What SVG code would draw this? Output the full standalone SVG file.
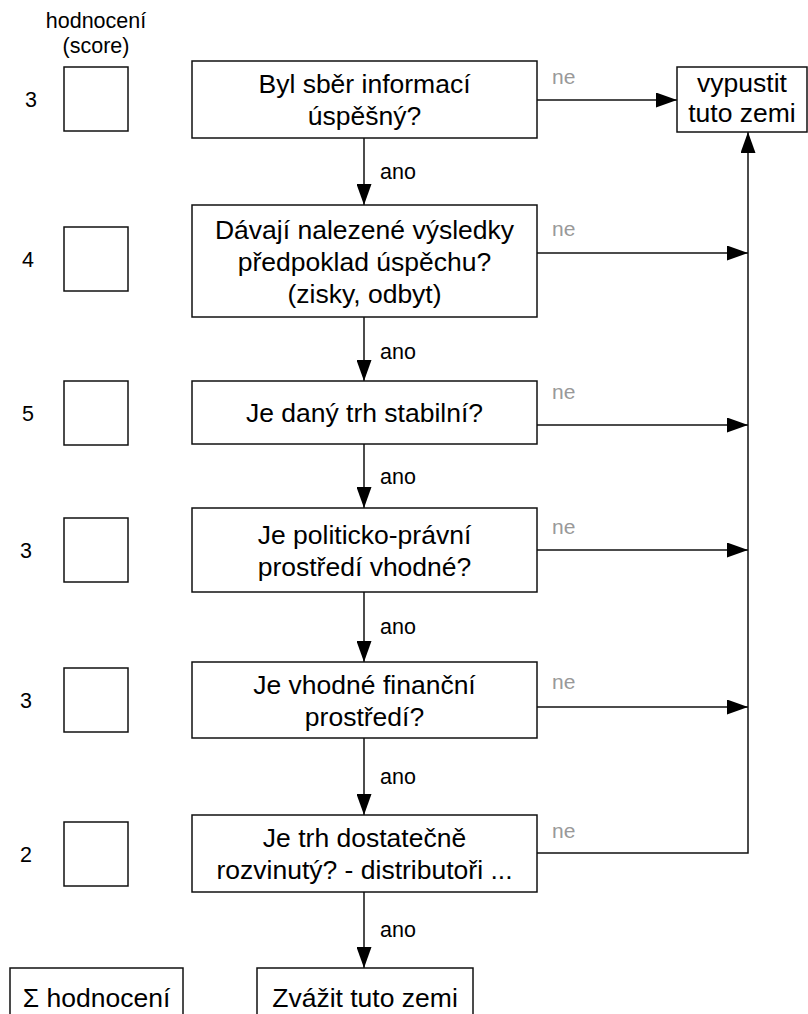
<svg xmlns="http://www.w3.org/2000/svg" width="808" height="1014" viewBox="0 0 808 1014">
<defs>
<marker id="ah" markerUnits="userSpaceOnUse" markerWidth="21" markerHeight="15" refX="21" refY="7.5" orient="auto">
<path d="M0,0 L21,7.5 L0,15 z" fill="#000"/>
</marker>
<style>
.box{fill:#fff;stroke:#111;stroke-width:1.5}
.t{font-family:"Liberation Sans",Arial,sans-serif;font-size:26.5px;fill:#000;text-anchor:middle}
.s{font-family:"Liberation Sans",Arial,sans-serif;font-size:21.5px;fill:#000}
.ne{font-family:"Liberation Sans",Arial,sans-serif;font-size:21px;fill:#999}
.c{fill:none;stroke:#111;stroke-width:1.5}
.ca{fill:none;stroke:#111;stroke-width:1.5;marker-end:url(#ah)}
</style>
</defs>
<rect width="808" height="1014" fill="#fff"/>
<g id="header">
<text class="s" x="96" y="28" text-anchor="middle">hodnocení</text>
<text class="s" x="96" y="53" text-anchor="middle">(score)</text>
</g>
<g id="scores">
<g id="score1"><text class="s" x="31" y="107" text-anchor="middle">3</text><rect class="box" x="64" y="67" width="64" height="64"/></g>
<g id="score2"><text class="s" x="28" y="267" text-anchor="middle">4</text><rect class="box" x="64" y="227" width="64" height="64"/></g>
<g id="score3"><text class="s" x="28" y="421" text-anchor="middle">5</text><rect class="box" x="64" y="381" width="64" height="64"/></g>
<g id="score4"><text class="s" x="26" y="558" text-anchor="middle">3</text><rect class="box" x="64" y="518" width="64" height="64"/></g>
<g id="score5"><text class="s" x="26" y="708" text-anchor="middle">3</text><rect class="box" x="64" y="668" width="64" height="64"/></g>
<g id="score6"><text class="s" x="26" y="862" text-anchor="middle">2</text><rect class="box" x="64" y="822" width="64" height="64"/></g>
</g>
<g id="connectors">
<line class="ca" x1="364" y1="138" x2="364" y2="205"/>
<line class="ca" x1="364" y1="317" x2="364" y2="381"/>
<line class="ca" x1="364" y1="444" x2="364" y2="508"/>
<line class="ca" x1="364" y1="592" x2="364" y2="662"/>
<line class="ca" x1="364" y1="738" x2="364" y2="815"/>
<line class="ca" x1="364" y1="892" x2="364" y2="968"/>
<line class="ca" x1="537" y1="100" x2="677" y2="100"/>
<line class="ca" x1="537" y1="253" x2="748" y2="253"/>
<line class="ca" x1="537" y1="425" x2="748" y2="425"/>
<line class="ca" x1="537" y1="550" x2="748" y2="550"/>
<line class="ca" x1="537" y1="707" x2="748" y2="707"/>
<polyline class="ca" points="537,853 748,853 748,132"/>
<text class="s" x="380" y="179">ano</text>
<text class="s" x="380" y="359">ano</text>
<text class="s" x="380" y="484">ano</text>
<text class="s" x="380" y="634">ano</text>
<text class="s" x="380" y="784">ano</text>
<text class="s" x="380" y="937">ano</text>
<text class="ne" x="552" y="84">ne</text>
<text class="ne" x="552" y="236">ne</text>
<text class="ne" x="552" y="399">ne</text>
<text class="ne" x="552" y="534">ne</text>
<text class="ne" x="552" y="689">ne</text>
<text class="ne" x="552" y="838">ne</text>
</g>
<g id="q1"><rect class="box" x="192" y="61" width="345" height="77"/><text class="t" x="364.5" y="93">Byl sběr informací</text><text class="t" x="364.5" y="125">úspěšný?</text></g>
<g id="q2"><rect class="box" x="192" y="205" width="345" height="112"/><text class="t" x="364.5" y="238.5">Dávají nalezené výsledky</text><text class="t" x="364.5" y="270.5">předpoklad úspěchu?</text><text class="t" x="364.5" y="302.5">(zisky, odbyt)</text></g>
<g id="q3"><rect class="box" x="192" y="381" width="345" height="63"/><text class="t" x="364.5" y="422">Je daný trh stabilní?</text></g>
<g id="q4"><rect class="box" x="192" y="508" width="345" height="84"/><text class="t" x="364.5" y="543.5">Je politicko-právní</text><text class="t" x="364.5" y="575.5">prostředí vhodné?</text></g>
<g id="q5"><rect class="box" x="192" y="662" width="345" height="76"/><text class="t" x="364.5" y="693.5">Je vhodné finanční</text><text class="t" x="364.5" y="725.5">prostředí?</text></g>
<g id="q6"><rect class="box" x="192" y="815" width="345" height="77"/><text class="t" x="364.5" y="847">Je trh dostatečně</text><text class="t" x="364.5" y="879">rozvinutý? - distributoři ...</text></g>
<g id="drop"><rect class="box" x="677" y="67" width="130" height="65"/><text class="t" x="742" y="92">vypustit</text><text class="t" x="742" y="122">tuto zemi</text></g>
<g id="sum"><rect class="box" x="10" y="968" width="173" height="60"/><text class="t" x="96.5" y="1007">Σ hodnocení</text></g>
<g id="consider"><rect class="box" x="257" y="968" width="216" height="60"/><text class="t" x="365" y="1007">Zvážit tuto zemi</text></g>
</svg>
